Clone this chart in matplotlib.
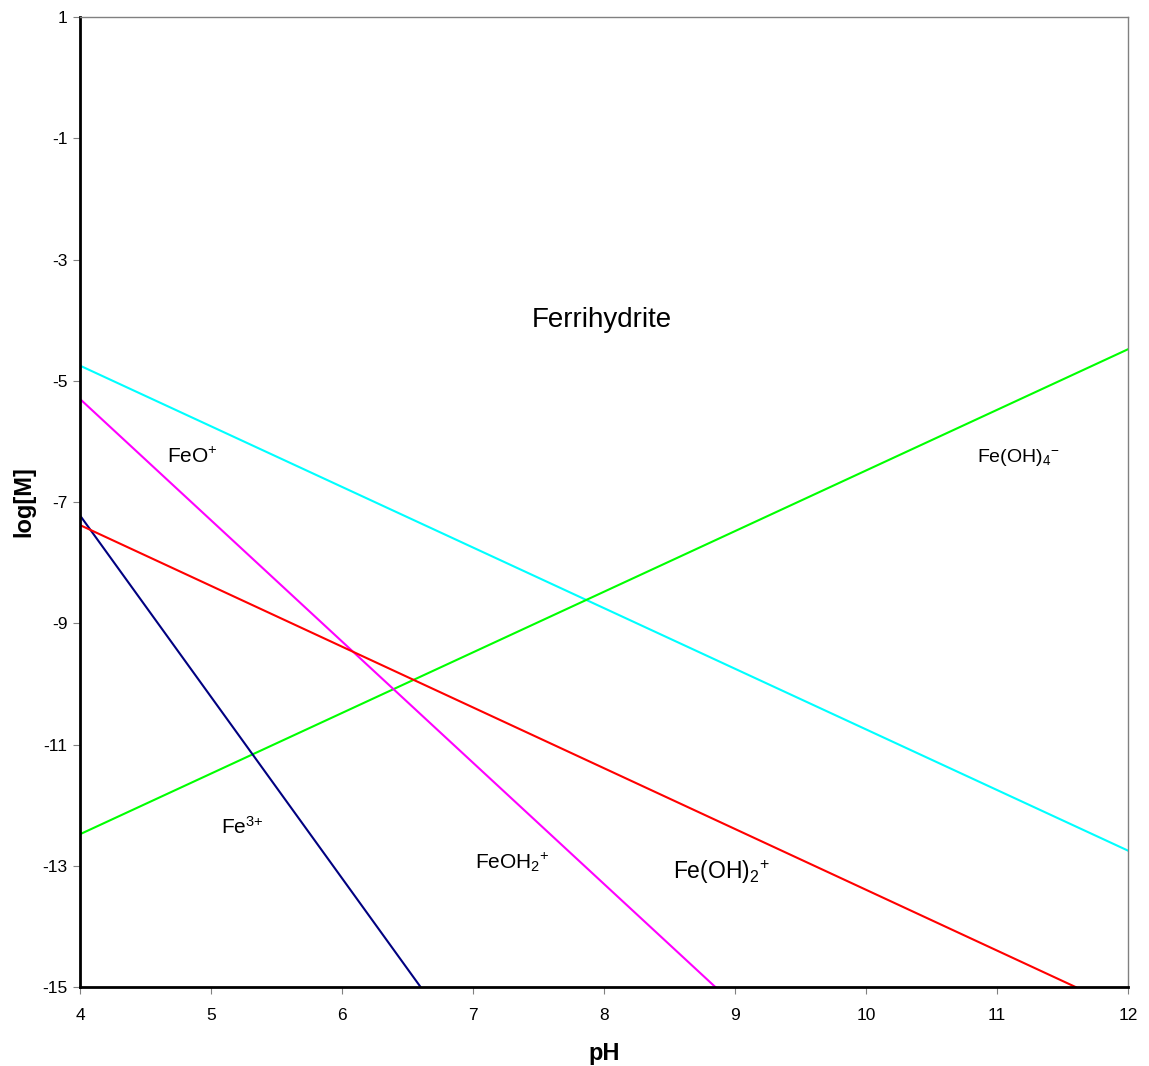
import matplotlib
matplotlib.use('Agg')
import matplotlib.pyplot as plt

plt.rcParams['font.family'] = ['Liberation Sans', 'DejaVu Sans']
plt.rcParams['mathtext.fontset'] = 'custom'
plt.rcParams['mathtext.rm'] = 'Liberation Sans'
plt.rcParams['mathtext.it'] = 'Liberation Sans:italic'
plt.rcParams['mathtext.bf'] = 'Liberation Sans:bold'
plt.rcParams['axes.unicode_minus'] = False

# Solubility lines (endpoints)
ph_cyan = [4, 12]
logm_cyan = [-4.75, -12.75]
ph_green = [4, 12]
logm_green = [-12.48, -4.48]
ph_magenta = [4, 8.85]
logm_magenta = [-5.3, -15.0]
ph_navy = [4, 6.6]
logm_navy = [-7.22, -15.0]
ph_red = [4, 11.6]
logm_red = [-7.38, -15.0]

# Species labels
label_text = ['Ferrihydrite', r'FeO$^{+}$', r'Fe(OH)$_{4}$$^{-}$', r'Fe$^{3{+}}$',
              r'FeOH$_{2}$$^{+}$', r'Fe(OH)$_{2}$$^{+}$']
label_ph = [7.98, 4.86, 11.16, 5.24, 7.3, 8.9]
label_logm = [-4.0, -6.25, -6.27, -12.35, -12.95, -13.1]
label_size = [20, 15, 14, 15, 15, 16.5]

fig = plt.figure(figsize=(11.49, 10.66), dpi=100)
ax = fig.add_axes([0.0696, 0.0741, 0.9121, 0.9099])

ax.plot(ph_cyan, logm_cyan, color='#00ffff', lw=1.5)
ax.plot(ph_green, logm_green, color='#00ff00', lw=1.5)
ax.plot(ph_magenta, logm_magenta, color='#ff00ff', lw=1.5)
ax.plot(ph_navy, logm_navy, color='#000080', lw=1.5)
ax.plot(ph_red, logm_red, color='#ff0000', lw=1.5)

for t, x, y, s in zip(label_text, label_ph, label_logm, label_size):
    ax.text(x, y, t, fontsize=s, ha='center', va='center')

ax.set_xlim(4, 12)
ax.set_ylim(-15, 1)
ax.set_xticks(range(4, 13))
ax.set_yticks(range(-15, 2, 2))
ax.tick_params(direction='out', length=5, color='#808080', labelsize=12.5)
ax.tick_params(axis='x', pad=10)
ax.tick_params(axis='y', pad=4)

for side in ['left', 'bottom']:
    ax.spines[side].set_linewidth(2)
    ax.spines[side].set_color('black')
for side in ['top', 'right']:
    ax.spines[side].set_linewidth(1)
    ax.spines[side].set_color('#808080')

ax.set_xlabel('pH', fontsize=17, fontweight='bold')
ax.set_ylabel('log[M]', fontsize=17, fontweight='bold')
ax.xaxis.set_label_coords(0.5, -0.069)
ax.yaxis.set_label_coords(-0.054, 0.5)
ax.xaxis.label.set_va('center')
ax.yaxis.label.set_va('center')

fig.savefig('out.png', dpi=100)
